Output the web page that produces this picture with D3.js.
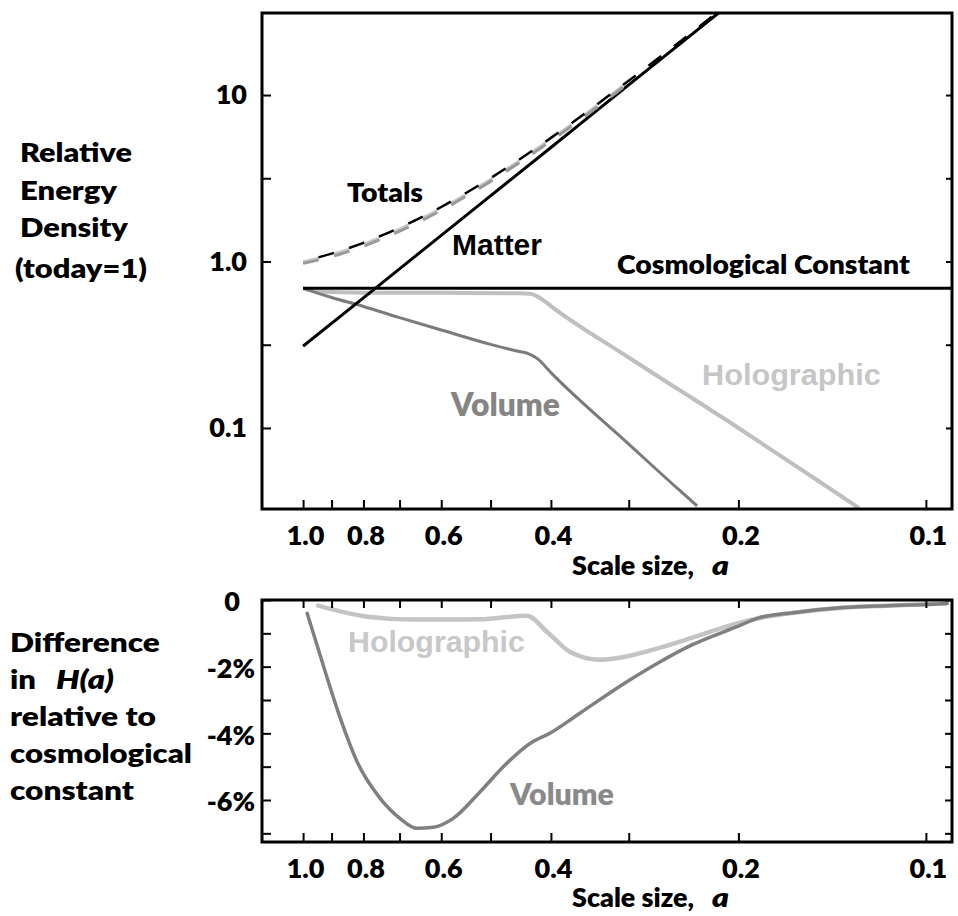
<!DOCTYPE html>
<html>
<head>
<meta charset="utf-8">
<script src="https://cdn.jsdelivr.net/npm/d3@7/dist/d3.min.js"></script>
<style>
  body { margin: 0; background: #fff; }
  svg text { font-family: Lato, "Open Sans", sans-serif; font-weight: 800; }
</style>
</head>
<body>
<div id="chart"></div>
<script>
// ---- data ----

// scale size ticks (log axis, shared by both panels)
const aTicks  = [1.0, 0.9, 0.8, 0.7, 0.6, 0.5, 0.4, 0.3, 0.2, 0.1];
const aLabels = [1.0, 0.8, 0.6, 0.4, 0.2, 0.1];

// top panel y ticks
const densTicks  = [10, 3.162, 1, 0.3162, 0.1];
const densLabels = [10, 1, 0.1];
const densText   = ["10", "1.0", "0.1"];

// bottom panel y ticks (percent)
const diffTicks  = [0, -1, -2, -3, -4, -5, -6, -7];
const diffLabels = [0, -2, -4, -6];

// top panel: relative energy density
const matterA = [1.0, 0.8, 0.6, 0.4, 0.3, 0.215];
const matterV = [0.31, 0.605, 1.435, 4.84, 11.5, 31.2];

const cosmoA = [1.0, 0.09];
const cosmoV = [0.69, 0.69];

const totalA = [1.0, 0.9, 0.8, 0.7, 0.6, 0.5, 0.4, 0.3, 0.25, 0.215];
const totalV = [1.0, 1.115, 1.295, 1.594, 2.125, 3.17, 5.53, 12.2, 20.5, 31.9];

const totA     = [1.0, 0.9, 0.8, 0.7, 0.6, 0.5, 0.4, 0.3];
const holoTotV = [0.99, 1.095, 1.265, 1.56, 2.08, 3.10, 5.42, 12.0];
const volTotV  = [0.975, 1.07, 1.235, 1.52, 2.03, 3.03, 5.30, 11.8];

const volA = [1.0, 0.9, 0.8, 0.7, 0.6, 0.5, 0.45, 0.435, 0.42, 0.4, 0.3, 0.25, 0.233];
const volV = [0.69, 0.608, 0.537, 0.46, 0.388, 0.318, 0.288, 0.28, 0.26, 0.215, 0.08, 0.043, 0.034];

const holoA = [1.0, 0.95, 0.9, 0.8, 0.6, 0.45, 0.43, 0.41, 0.4, 0.3, 0.2, 0.15, 0.128];
const holoV = [0.69, 0.665, 0.655, 0.65, 0.648, 0.645, 0.637, 0.58, 0.54, 0.265, 0.1, 0.049, 0.033];

// bottom panel: difference in H(a), percent
const dVolA = [0.985, 0.915, 0.872, 0.819, 0.752, 0.699, 0.656, 0.618, 0.574, 0.520, 0.474, 0.431,
               0.401, 0.359, 0.302, 0.267, 0.237, 0.201, 0.185, 0.163, 0.136, 0.113, 0.0996, 0.0925];
const dVolV = [-0.40, -2.33, -3.53, -4.85, -5.95, -6.55, -6.85, -6.82, -6.55, -5.76, -4.95, -4.29,
               -3.99, -3.39, -2.45, -1.85, -1.34, -0.80, -0.53, -0.38, -0.225, -0.165, -0.135, -0.105];

const dHoloA = [0.946, 0.789, 0.666, 0.56, 0.52, 0.437, 0.406, 0.373, 0.334, 0.31, 0.267, 0.237,
                0.201, 0.185, 0.163, 0.136, 0.113, 0.0925];
const dHoloV = [-0.17, -0.50, -0.585, -0.585, -0.58, -0.47, -0.95, -1.55, -1.79, -1.73, -1.43, -1.13,
                -0.70, -0.54, -0.38, -0.23, -0.165, -0.10];

// ---- layout ----
const width = 958, height = 916;
const top1 = {left: 262, right: 952, top: 13, bottom: 509};
const bot1 = {left: 262, right: 952, top: 600, bottom: 842};

const svg = d3.select("#chart").append("svg")
  .attr("width", width).attr("height", height);

// scales
const xTop = d3.scaleLog().domain([1.164, 0.0908]).range([top1.left, top1.right]);
const yTop = d3.scaleLog().domain([0.0326, 31.1]).range([top1.bottom, top1.top]);
const xBot = d3.scaleLog().domain([1.164, 0.0908]).range([bot1.left, bot1.right]);
const yBot = d3.scaleLinear().domain([-7.26, 0]).range([bot1.bottom, bot1.top]);

const zip = (xs, ys) => xs.map((a, i) => [a, ys[i]]);

// clip regions
const defs = svg.append("defs");
defs.append("clipPath").attr("id", "clipTop").append("rect")
  .attr("x", top1.left).attr("y", top1.top)
  .attr("width", top1.right - top1.left).attr("height", top1.bottom - top1.top);
defs.append("clipPath").attr("id", "clipBot").append("rect")
  .attr("x", bot1.left).attr("y", bot1.top)
  .attr("width", bot1.right - bot1.left).attr("height", bot1.bottom - bot1.top);

// text helper: stretches the text horizontally to the width seen in the picture
function label(str, x, y, size, w, opt) {
  opt = opt || {};
  const t = svg.append("text")
    .attr("font-size", size)
    .attr("fill", opt.fill || "#000")
    .text(str);
  if (opt.family) t.style("font-family", opt.family).style("font-weight", 700);
  if (opt.italic) t.style("font-style", "italic");
  let sx = 1;
  if (w) sx = w / t.node().getComputedTextLength();
  t.attr("transform", `translate(${x},${y}) scale(${sx},1)`);
  return t;
}

/*
  Top panel
*/
const gTop = svg.append("g");

const lineTop = d3.line()
  .x(d => xTop(d[0])).y(d => yTop(d[1]))
  .curve(d3.curveMonotoneX);

const plotTop = gTop.append("g").attr("clip-path", "url(#clipTop)");

plotTop.append("path").datum(zip(holoA, holoV))
  .attr("d", lineTop).attr("fill", "none")
  .attr("stroke", "#bfbfbf").attr("stroke-width", 4).attr("stroke-linejoin", "round");

plotTop.append("path").datum(zip(volA, volV))
  .attr("d", lineTop).attr("fill", "none")
  .attr("stroke", "#7b7b7b").attr("stroke-width", 3).attr("stroke-linejoin", "round");

plotTop.append("path").datum(zip(cosmoA, cosmoV))
  .attr("d", d3.line().x(d => xTop(d[0])).y(d => yTop(d[1])))
  .attr("fill", "none").attr("stroke", "#000").attr("stroke-width", 3);

plotTop.append("path").datum(zip(matterA, matterV))
  .attr("d", lineTop).attr("fill", "none")
  .attr("stroke", "#000").attr("stroke-width", 3);

// totals of the two models, dashed in the gaps of the black one
plotTop.append("path").datum(zip(totA, holoTotV))
  .attr("d", lineTop).attr("fill", "none")
  .attr("stroke", "#c8c8c8").attr("stroke-width", 3.5)
  .attr("stroke-dasharray", "16,16").attr("stroke-dashoffset", 0);
plotTop.append("path").datum(zip(totA, volTotV))
  .attr("d", lineTop).attr("fill", "none")
  .attr("stroke", "#999").attr("stroke-width", 3)
  .attr("stroke-dasharray", "16,16").attr("stroke-dashoffset", 0);

plotTop.append("path").datum(zip(totalA, totalV))
  .attr("d", lineTop).attr("fill", "none")
  .attr("stroke", "#000").attr("stroke-width", 2.5)
  .attr("stroke-dasharray", "16,16").attr("stroke-dashoffset", 16);

// axes
gTop.append("g")
  .attr("transform", `translate(0,${top1.bottom})`)
  .call(d3.axisBottom(xTop).tickValues(aTicks).tickSize(-9).tickPadding(17)
          .tickFormat(d => aLabels.includes(d) ? d3.format(".1f")(d) : ""))
  .call(g => g.select(".domain").remove())
  .call(g => g.selectAll("line").attr("stroke-width", 2))
  .call(g => g.selectAll("text").attr("font-size", 27).attr("dx", 2).attr("fill", "#000"));

gTop.append("g")
  .attr("transform", `translate(${top1.left},0)`)
  .call(d3.axisLeft(yTop).tickValues(densTicks).tickSize(-9).tickPadding(15)
          .tickFormat(d => {
            const i = densLabels.indexOf(d);
            return i >= 0 ? densText[i] : "";
          }))
  .call(g => g.select(".domain").remove())
  .call(g => g.selectAll("line").attr("stroke-width", 2))
  .call(g => g.selectAll("text").attr("font-size", 27).attr("fill", "#000"));

gTop.append("g")
  .attr("transform", `translate(${top1.right},0)`)
  .call(d3.axisRight(yTop).tickValues(densTicks).tickSize(-6).tickFormat(""))
  .call(g => g.select(".domain").remove())
  .call(g => g.selectAll("line").attr("stroke-width", 2));

gTop.append("rect")
  .attr("x", top1.left).attr("y", top1.top)
  .attr("width", top1.right - top1.left).attr("height", top1.bottom - top1.top)
  .attr("fill", "none").attr("stroke", "#000").attr("stroke-width", 3);

/*
  Bottom panel
*/
const gBot = svg.append("g");

const lineBot = d3.line()
  .x(d => xBot(d[0])).y(d => yBot(d[1]))
  .curve(d3.curveMonotoneX);

const plotBot = gBot.append("g").attr("clip-path", "url(#clipBot)");

plotBot.append("path").datum(zip(dHoloA, dHoloV))
  .attr("d", lineBot).attr("fill", "none")
  .attr("stroke", "#c4c4c4").attr("stroke-width", 4.5).attr("stroke-linecap", "round");

plotBot.append("path").datum(zip(dVolA, dVolV))
  .attr("d", lineBot).attr("fill", "none")
  .attr("stroke", "#808080").attr("stroke-width", 3.5).attr("stroke-linecap", "round");

gBot.append("g")
  .attr("transform", `translate(0,${bot1.bottom})`)
  .call(d3.axisBottom(xBot).tickValues(aTicks).tickSize(-9).tickPadding(17)
          .tickFormat(d => aLabels.includes(d) ? d3.format(".1f")(d) : ""))
  .call(g => g.select(".domain").remove())
  .call(g => g.selectAll("line").attr("stroke-width", 2))
  .call(g => g.selectAll("text").attr("font-size", 27).attr("dx", 2).attr("fill", "#000"));

gBot.append("g")
  .attr("transform", `translate(0,${bot1.top})`)
  .call(d3.axisTop(xBot).tickValues(aTicks).tickSize(-8).tickFormat(""))
  .call(g => g.select(".domain").remove())
  .call(g => g.selectAll("line").attr("stroke-width", 2));

gBot.append("g")
  .attr("transform", `translate(${bot1.left},0)`)
  .call(d3.axisLeft(yBot).tickValues(diffTicks).tickSize(-9).tickPadding(7)
          .tickFormat(d => diffLabels.includes(d) ? (d === 0 ? "0" : "-" + Math.abs(d) + "%") : ""))
  .call(g => g.select(".domain").remove())
  .call(g => g.selectAll("line").attr("stroke-width", 2))
  .call(g => g.selectAll("text").attr("font-size", 27).attr("fill", "#000")
               .attr("dy", "0.4em")
               .attr("dx", d => d === 0 ? -15 : 0));

gBot.append("g")
  .attr("transform", `translate(${bot1.right},0)`)
  .call(d3.axisRight(yBot).tickValues(diffTicks).tickSize(-7).tickFormat(""))
  .call(g => g.select(".domain").remove())
  .call(g => g.selectAll("line").attr("stroke-width", 2));

gBot.append("rect")
  .attr("x", bot1.left).attr("y", bot1.top)
  .attr("width", bot1.right - bot1.left).attr("height", bot1.bottom - bot1.top)
  .attr("fill", "none").attr("stroke", "#000").attr("stroke-width", 3);

/*
  Labels
*/
const arial = '"Liberation Sans", Arial, sans-serif';

// top panel y title
label("Relative", 20, 162, 27, 112);
label("Energy", 20, 200, 27, 97);
label("Density", 20, 237, 27, 108);
label("(today=1)", 15, 278, 27, 132);

// bottom panel y title
label("Difference", 10, 652, 27, 150);
label("in", 10, 689, 27, 26);
label("H(a)", 56, 689, 27, 58, {italic: true});
label("relative to", 10, 726, 27, 146);
label("cosmological", 10, 763, 27, 182);
label("constant", 10, 800, 27, 124);

// x titles
label("Scale size,", 572, 575, 26, 122);
label("a", 712, 575, 27, 17, {italic: true});
label("Scale size,", 572, 907, 26, 122);
label("a", 712, 907, 27, 17, {italic: true});

// series labels
label("Totals", 347, 202, 27, 76);
label("Matter", 452, 255, 30, 90, {family: arial});
label("Cosmological Constant", 617, 274, 27, 293);
label("Holographic", 702, 385, 30, 179, {family: arial, fill: "#c6c6c6"});
label("Volume", 451, 416, 32, 109, {fill: "#858585"});
label("Holographic", 348, 652, 30, 177, {family: arial, fill: "#c8c8c8"});
label("Volume", 510, 805, 30, 104, {fill: "#8a8a8a"});
</script>
</body>
</html>
